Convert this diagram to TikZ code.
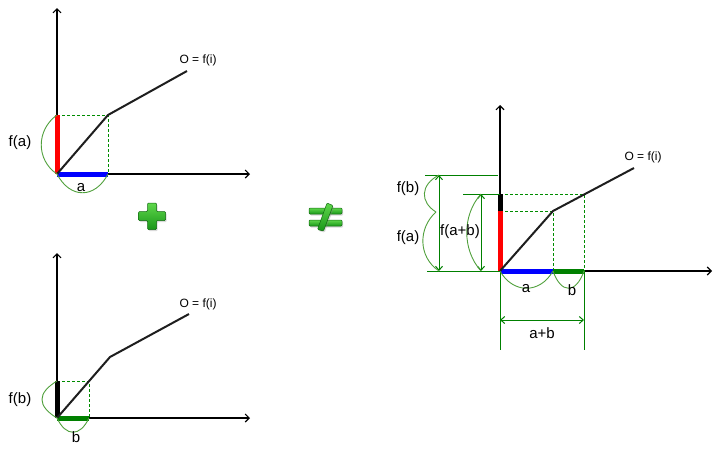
\documentclass[tikz,border=0pt]{standalone}
\usepackage{fontspec}
\setmainfont{Liberation Sans}
\usetikzlibrary{arrows.meta,shadows}
\definecolor{dgreen}{RGB}{0,128,0}
\definecolor{gguide}{RGB}{0,140,0}
\definecolor{bgreen}{RGB}{80,160,60}
\definecolor{curvec}{RGB}{30,30,30}
\definecolor{pgA}{RGB}{95,215,75}
\definecolor{pgB}{RGB}{25,150,25}
\definecolor{pgD}{RGB}{15,105,15}
\tikzset{
  axis/.style={line width=1.1pt,-{Straight Barb[length=4pt,width=8pt]}},
  fcurve/.style={curvec,line width=2pt,line join=round},
  bar/.style={line width=5pt},
  guide/.style={gguide,line width=1pt,dash pattern=on 3pt off 2pt},
  ext/.style={dgreen,line width=1pt},
  dim/.style={dgreen,line width=1pt,{Straight Barb[length=4pt,width=7pt]}-{Straight Barb[length=4pt,width=7pt]}},
  brace/.style={bgreen,line width=0.9pt},
  lbl/.style={font=\fontsize{15}{17}\selectfont,inner sep=0pt},
  olbl/.style={font=\fontsize{12}{14}\selectfont,inner sep=0pt},
  sym/.style={top color=pgA,bottom color=pgB,draw=pgD,line width=0.5pt,rounded corners=1pt,
    drop shadow={opacity=0.3,shadow xshift=1.2pt,shadow yshift=-1.5pt}}
}
\begin{document}
\begin{tikzpicture}[x=1pt,y=-1pt]
\useasboundingbox (0,0) rectangle (717,451);
% ---------- top-left ----------
\coordinate (O1) at (57,174);
\coordinate (Y1) at (57,8);
\coordinate (X1) at (250,174);
\coordinate (A1) at (108,174);
\coordinate (F1) at (57,115);
\coordinate (P1) at (108,115);
\coordinate (E1) at (187,71);
\draw[axis] (O1) -- (Y1);
\draw[axis] (O1) -- (X1);
\draw[guide] (F1) -- (P1) -- (A1);
\draw[bar,red] (O1) -- (F1);
\draw[bar,blue] (O1) -- (A1);
\draw[fcurve] (O1) -- (P1) -- (E1);
\draw[brace] (F1) .. controls (36,130) and (36,160) .. (O1);
\draw[brace] (O1) .. controls (70,199) and (95,199) .. (A1);
\node[lbl] (tfa) at (20,143) {f(a)};
\node[lbl] (ta) at (81,188) {a};
\node[olbl] (to1) at (198,60) {O = f(i)};
% ---------- bottom-left ----------
\coordinate (O2) at (57,418);
\coordinate (Y2) at (57,253);
\coordinate (X2) at (250,418);
\coordinate (B2) at (89,418);
\coordinate (F2) at (57,381);
\coordinate (P2) at (89,381);
\coordinate (K2) at (110,357);
\coordinate (E2) at (189,314);
\draw[axis] (O2) -- (Y2);
\draw[axis] (O2) -- (X2);
\draw[guide] (F2) -- (P2) -- (B2);
\draw[bar,black] (O2) -- (F2);
\draw[bar,dgreen] (O2) -- (B2);
\draw[fcurve] (O2) -- (K2) -- (E2);
\draw[brace] (F2) .. controls (37,393) and (37,406) .. (O2);
\draw[brace] (O2) .. controls (66,437) and (80,437) .. (B2);
\node[lbl] (tfb) at (20,400) {f(b)};
\node[lbl] (tb) at (76,437) {b};
\node[olbl] (to2) at (198,304) {O = f(i)};
% ---------- plus and not-equal ----------
\path[sym] (147.5,203) -- (156.5,203) -- (156.5,211.5) -- (165.5,211.5) -- (165.5,220.5)
  -- (156.5,220.5) -- (156.5,229.5) -- (147.5,229.5) -- (147.5,220.5) -- (138.5,220.5)
  -- (138.5,211.5) -- (147.5,211.5) -- cycle;
\path[sym] (309,208) rectangle (342,214);
\path[sym] (309,220) rectangle (342,226);
\path[sym] (327,203) -- (333,205.5) -- (323.5,231) -- (317.5,229.5) -- cycle;
% ---------- right ----------
\coordinate (O3) at (500,271);
\coordinate (Y3) at (500,105);
\coordinate (X3) at (712,271);
\coordinate (A3) at (553,271);
\coordinate (B3) at (584,271);
\coordinate (F3) at (500,211);
\coordinate (G3) at (500,194);
\coordinate (P3) at (553,211);
\coordinate (Q3) at (584,194);
\coordinate (E3) at (634,168);
\draw[axis] (O3) -- (Y3);
\draw[axis] (O3) -- (X3);
\draw[guide] (F3) -- (P3) -- (A3);
\draw[guide] (G3) -- (Q3) -- (B3);
\draw[bar,red] (O3) -- (F3);
\draw[bar,black] (F3) -- (G3);
\draw[bar,blue] (O3) -- (A3);
\draw[bar,dgreen] (A3) -- (B3);
\draw[fcurve] (O3) -- (P3) -- (E3);
% extension lines
\coordinate (L1a) at (425,175); \coordinate (L1b) at (498,175);
\coordinate (L2a) at (463,194);
\coordinate (L3a) at (427,271);
\coordinate (V1b) at (500,350);
\coordinate (V2b) at (584,350);
\draw[ext] (L1a) -- (L1b);
\draw[ext] (L2a) -- (G3);
\draw[ext] (L3a) -- (O3);
\draw[ext] (O3) -- (V1b);
\draw[ext] (B3) -- (V2b);
% dimension arrows
\coordinate (D1t) at (439,175); \coordinate (D1b) at (439,271);
\coordinate (D2t) at (481,194); \coordinate (D2b) at (481,271);
\coordinate (D3l) at (500,320); \coordinate (D3r) at (584,320);
\coordinate (D1m) at (436,212);
\draw[dim] (D1t) -- (D1b);
\draw[dim] (D2t) -- (D2b);
\draw[dim] (D3l) -- (D3r);
% braces
\draw[brace] (D1t) .. controls (420,185) and (420,202) .. (D1m);
\draw[brace] (D1m) .. controls (418,228) and (418,257) .. (D1b);
\draw[brace] (D2t) .. controls (462,215) and (462,250) .. (D2b);
\draw[brace] (O3) .. controls (513,294) and (540,294) .. (A3);
\draw[brace] (A3) .. controls (561,294) and (576,294) .. (B3);
\node[lbl] (rfb) at (408,189) {f(b)};
\node[lbl] (rfa) at (408,238) {f(a)};
\node[lbl] (rfab) at (460,232) {f(a+b)};
\node[lbl] (ra) at (526,289) {a};
\node[lbl] (rb) at (572,290) {b};
\node[lbl] (rab) at (542,333) {a+b};
\node[olbl] (to3) at (643,157) {O = f(i)};
\end{tikzpicture}
\end{document}
